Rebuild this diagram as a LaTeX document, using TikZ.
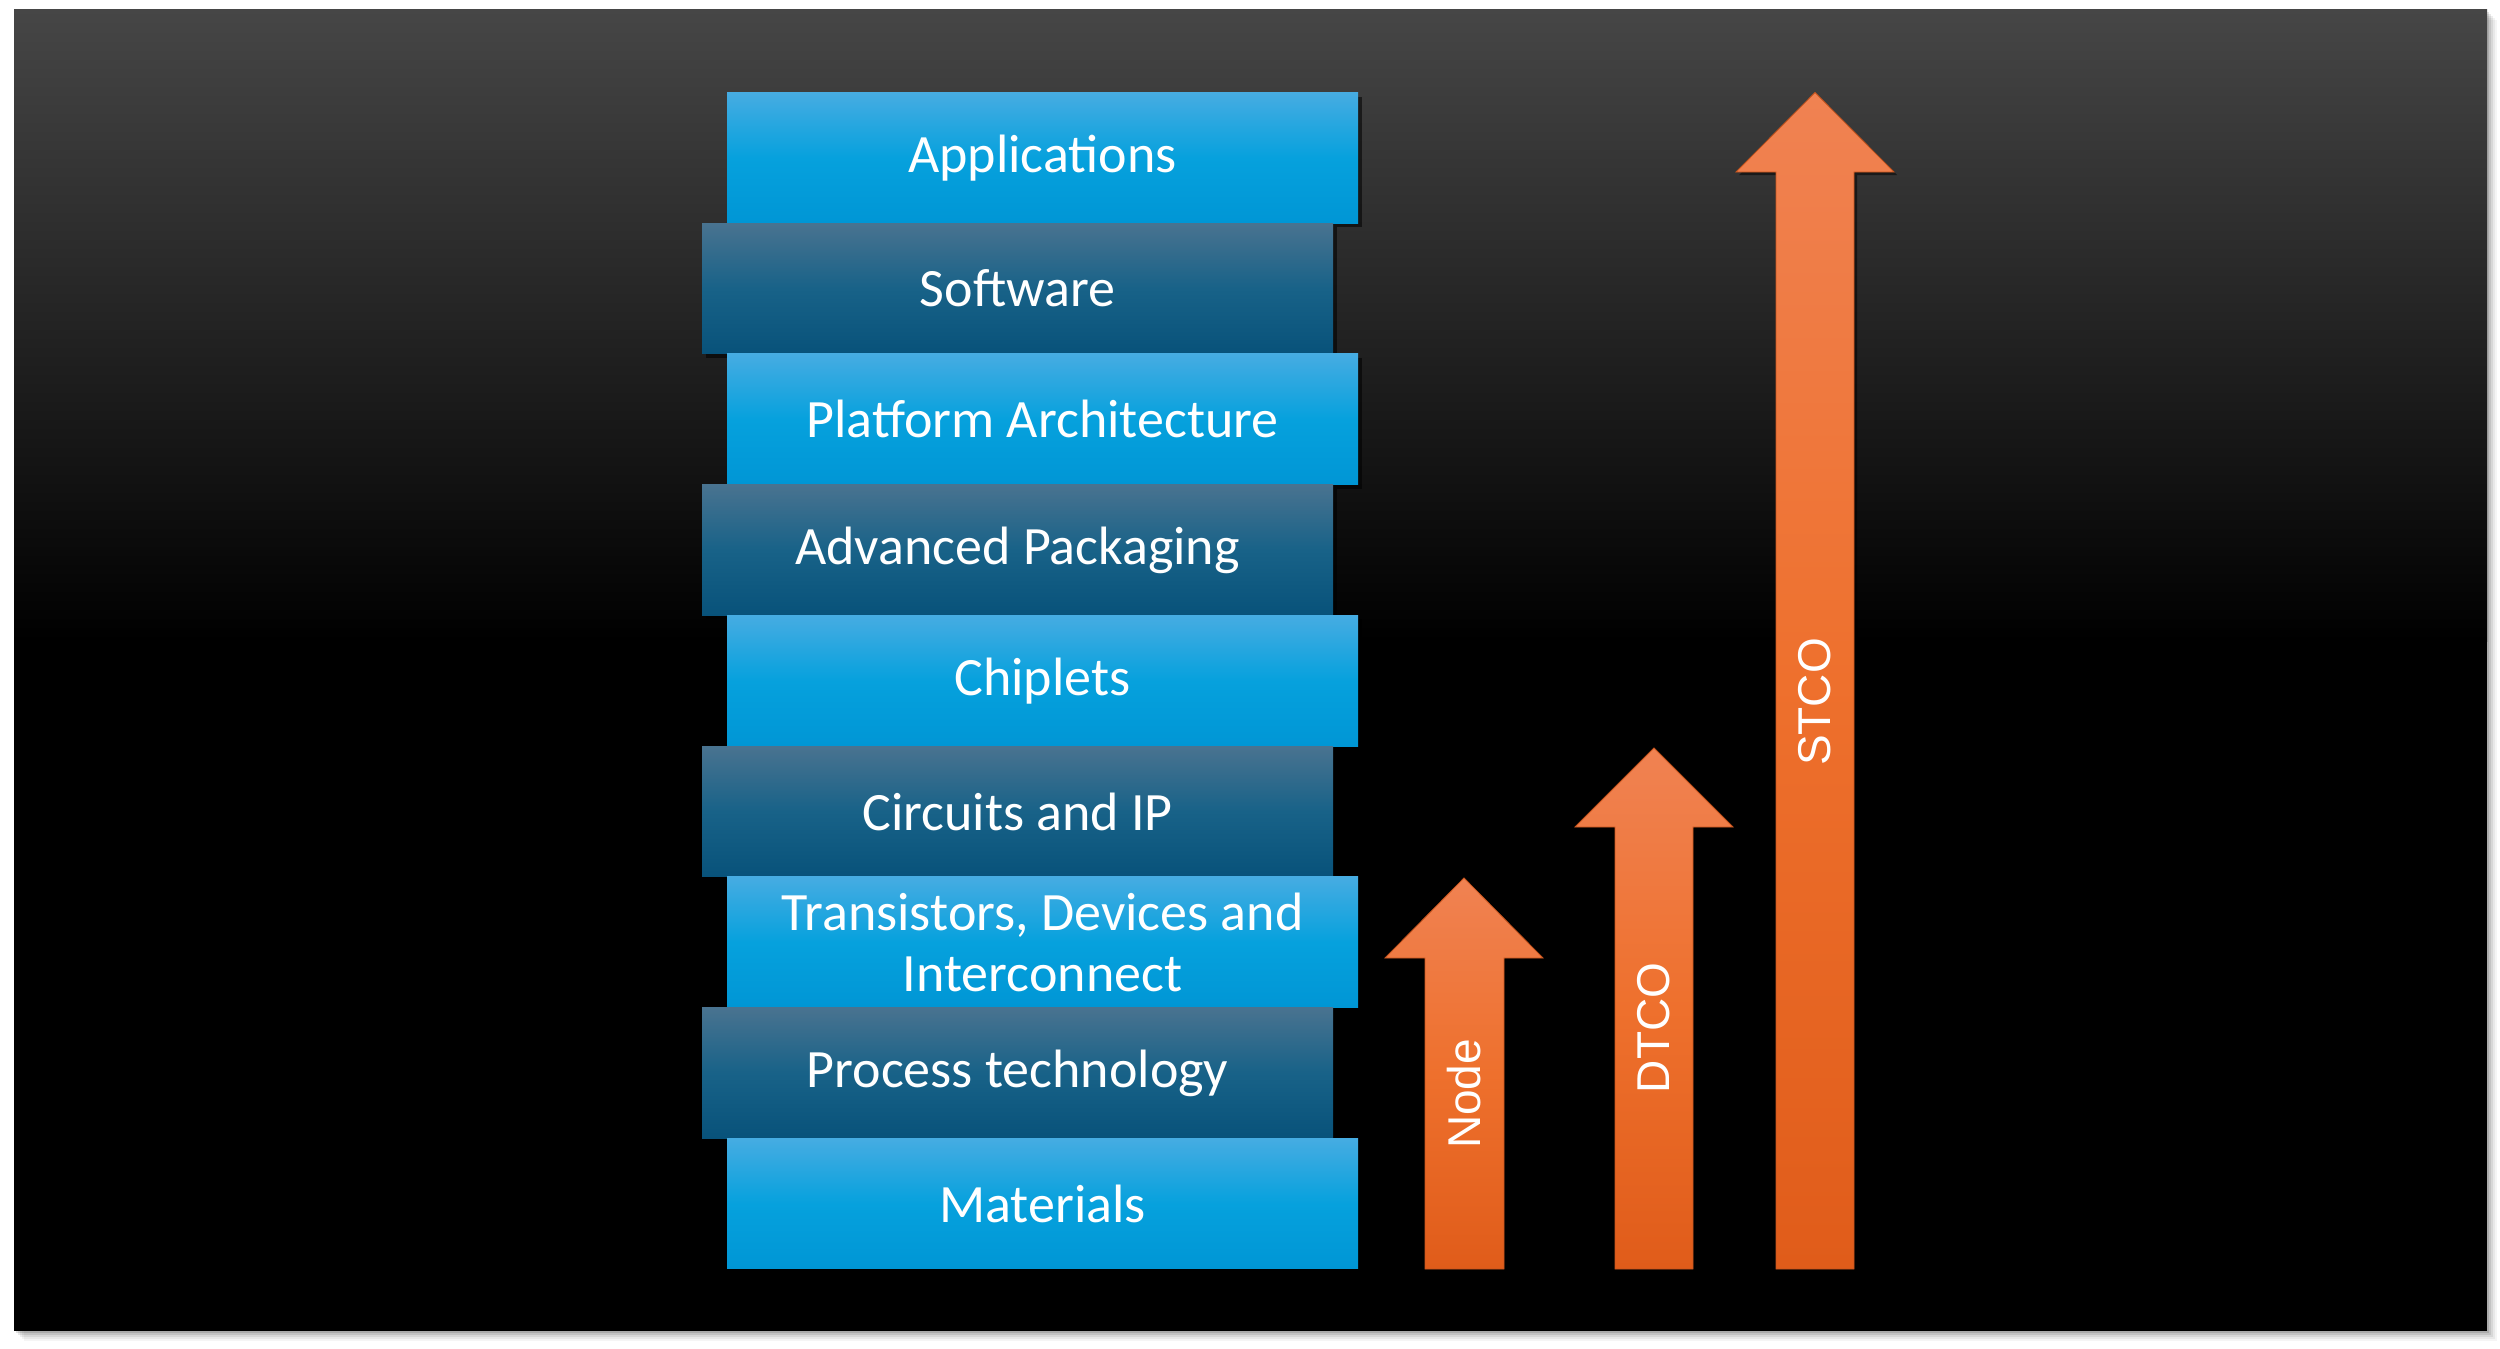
\documentclass[tikz,border=0pt]{standalone}
\usepackage{fontspec}
\setmainfont{Carlito}
\newfontfamily\arrowfont{Liberation Sans}
\usetikzlibrary{shadows}
\definecolor{bgtop}{RGB}{70,70,70}
\definecolor{lta}{RGB}{70,172,226}
\definecolor{ltb}{RGB}{6,161,221}
\definecolor{ltc}{RGB}{0,150,213}
\definecolor{dka}{RGB}{73,115,144}
\definecolor{dkb}{RGB}{24,98,136}
\definecolor{dkc}{RGB}{8,82,122}
\definecolor{ortop}{RGB}{240,130,82}
\definecolor{ormid}{RGB}{238,112,45}
\definecolor{orbot}{RGB}{224,92,26}
\definecolor{oredge}{RGB}{200,85,30}
\tikzset{
  lay/.style={rectangle, minimum width=631pt, minimum height=130.7pt, inner sep=0pt,
    text=white, font=\fontsize{54}{61}\selectfont, align=center,
    drop shadow={shadow xshift=4pt, shadow yshift=-4pt, opacity=0.55, fill=black}},
  lightlay/.style={lay, top color=lta, bottom color=ltc, middle color=ltb},
  darklay/.style={lay, top color=dka, bottom color=dkc, middle color=dkb},
  arrowshape/.style={top color=ortop, bottom color=orbot, middle color=ormid, draw=oredge, line width=0.8pt,
    drop shadow={shadow xshift=3pt, shadow yshift=-3pt, opacity=0.5, fill=black}},
  arrowlbl/.style={text=white, font=\arrowfont\fontsize{46}{50}\selectfont, inner sep=0pt, rotate=90}
}
\begin{document}
\begin{tikzpicture}[x=1pt,y=-1pt]
\useasboundingbox (0,0) rectangle (2500,1349);
\fill[white] (0,0) rectangle (2500,1349);
% panel shadow
\foreach \i/\o in {10/0.04,8/0.05,6/0.07,4/0.09,2/0.12}{
  \fill[black,opacity=\o] (14+\i,9.5+\i) rectangle (2487+\i,1331+\i);
}
% panel
\fill[top color=bgtop, bottom color=black] (14,9.5) rectangle (2487,641);
\fill[black] (14,640) rectangle (2487,1331);
% stack
\node[lightlay] (app) at (1042.5,157.9) {Applications};
\node[darklay]  (sw)  at (1017.5,288.6) {Software};
\node[lightlay] (pa)  at (1042.5,419.3) {Platform Architecture};
\node[darklay]  (ap)  at (1017.5,550.0) {Advanced Packaging};
\node[lightlay] (ch)  at (1042.5,680.7) {Chiplets};
\node[darklay]  (cip) at (1017.5,811.5) {Circuits and IP};
\node[lightlay] (tdi) at (1042.5,942.2) {Transistors, Devices and\\Interconnect};
\node[darklay]  (pt)  at (1017.5,1072.9) {Process technology};
\node[lightlay] (mat) at (1042.5,1203.6) {Materials};
% arrows
\filldraw[arrowshape] (1425,1269) -- (1425,958) -- (1385,958) -- (1464,878) -- (1543,958) -- (1504,958) -- (1504,1269) -- cycle;
\filldraw[arrowshape] (1615,1269) -- (1615,827) -- (1575,827) -- (1654,748) -- (1733,827) -- (1693,827) -- (1693,1269) -- cycle;
\filldraw[arrowshape] (1776,1269) -- (1776,172) -- (1736,172) -- (1815,92.5) -- (1894,172) -- (1854,172) -- (1854,1269) -- cycle;
\node[arrowlbl] (nodelbl) at (1464,1094) {Node};
\node[arrowlbl] (dtcolbl) at (1654,1028) {DTCO};
\node[arrowlbl] (stcolbl) at (1815,702) {STCO};
\end{tikzpicture}
\end{document}
